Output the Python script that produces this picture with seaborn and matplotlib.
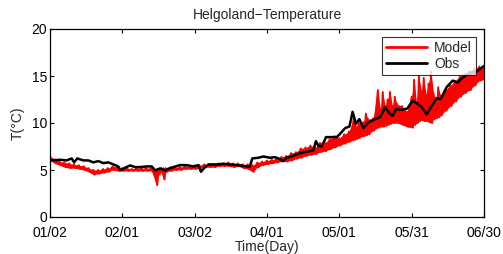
import matplotlib
matplotlib.use("Agg")
import matplotlib.pyplot as plt
import seaborn as sns
import numpy as np
import pandas as pd

# ---- data ----
tick_days = [2, 32, 62, 92, 122, 152, 182]
tick_labels = ["01/02", "02/01", "03/02", "04/01", "05/01", "05/31", "06/30"]

obs_days = [2.0, 6.1, 8.9, 11.0, 12.0, 13.3, 15.8, 17.9, 20.0, 22.0, 24.1, 26.2,
            28.3, 30.3, 31.3, 33.1, 35.2, 37.3, 39.3, 42.1, 44.2, 45.6, 47.6, 49.7,
            51.1, 53.2, 55.9, 58.7, 61.5, 63.5, 64.6, 65.9, 67.7, 71.1, 73.9, 76.7,
            79.4, 83.6, 84.9, 85.9, 88.4, 90.5, 93.2, 95.3, 97.4, 98.8, 100.2, 102.9,
            105.0, 107.1, 109.8, 111.2, 112.3, 113.3, 114.7, 116.5, 118.1, 120.9,
            122.3, 124.4, 126.2, 127.5, 128.9, 130.3, 132.0, 134.0, 136.8, 138.9,
            141.0, 142.7, 144.1, 145.5, 147.9, 150.2, 152.4, 154.4, 156.2, 158.2,
            160.3, 162.4, 164.0, 166.5, 169.0, 171.0, 173.4, 176.2, 178.9, 182.0]
obs_vals = [6.02, 6.09, 6.02, 6.23, 5.81, 6.23, 6.02, 6.02, 5.81, 5.95, 5.73, 5.81,
            5.59, 5.38, 4.96, 5.24, 5.49, 5.31, 5.31, 5.38, 5.38, 4.96, 5.17, 4.96,
            5.13, 5.31, 5.52, 5.52, 5.38, 5.52, 4.81, 5.20, 5.59, 5.59, 5.66, 5.59,
            5.52, 5.38, 5.38, 6.23, 6.30, 6.44, 6.30, 6.37, 6.16, 5.95, 6.30, 6.51,
            6.73, 6.87, 7.01, 7.08, 8.07, 7.58, 7.50, 8.50, 8.50, 8.50, 8.85, 9.45,
            9.63, 11.19, 9.91, 10.41, 9.45, 10.05, 10.41, 10.62, 11.68, 11.04, 10.76,
            11.47, 11.40, 11.54, 12.39, 12.04, 11.68, 10.90, 11.82, 12.64, 12.53,
            13.81, 14.51, 14.30, 14.87, 15.36, 15.47, 16.07]

model_days = [2, 4, 6, 8, 10, 12, 14, 16, 18, 20, 22, 24, 26, 28, 30, 32, 34, 36,
              38, 40, 42, 44, 45, 46, 47, 48, 49, 50, 52, 54, 56, 58, 60, 62, 64,
              66, 68, 70, 72, 74, 76, 78, 80, 82, 84, 86, 88, 90, 92, 94, 96, 98,
              100, 102, 104, 106, 108, 110, 112, 114, 116, 118, 120, 122, 124, 126,
              128, 129, 130, 132, 133, 134, 136, 138, 139, 140, 141, 142, 143, 144,
              145, 146, 148, 150, 152, 153, 154, 155, 156, 157, 158, 159, 160, 161,
              162, 163, 164, 166, 168, 170, 172, 174, 176, 178, 180, 182]
model_lo = [6.0, 5.7, 5.5, 5.3, 5.2, 5.2, 5.1, 5.0, 4.8, 4.5, 4.6, 4.7, 4.8, 5.0,
            4.9, 4.9, 4.9, 4.9, 4.9, 4.9, 4.9, 4.9, 4.3, 3.4, 4.5, 4.8, 4.0, 4.8,
            4.9, 5.0, 5.0, 5.1, 5.1, 5.1, 5.2, 5.3, 5.3, 5.3, 5.4, 5.4, 5.4, 5.3,
            5.4, 5.2, 5.1, 4.8, 5.3, 5.5, 5.6, 5.7, 5.8, 5.9, 5.9, 6.0, 6.2, 6.3,
            6.5, 6.6, 6.7, 6.9, 7.0, 7.2, 7.4, 7.6, 7.8, 8.0, 8.2, 8.3, 8.4, 8.6,
            8.7, 8.8, 9.2, 9.5, 9.6, 9.6, 9.7, 9.8, 9.9, 10.0, 10.0, 10.0, 9.8,
            9.6, 9.5, 9.8, 10.0, 10.2, 10.3, 10.2, 10.2, 10.1, 10.0, 10.4, 10.5,
            10.6, 10.8, 11.3, 11.8, 12.3, 12.8, 13.2, 13.5, 14.0, 14.5, 14.6]
model_hi = [6.5, 6.1, 5.9, 5.8, 5.7, 5.6, 5.5, 5.4, 5.2, 5.0, 5.0, 5.1, 5.2, 5.4,
            5.3, 5.2, 5.2, 5.1, 5.2, 5.2, 5.2, 5.2, 5.0, 5.0, 5.1, 5.2, 5.2, 5.2,
            5.3, 5.3, 5.3, 5.4, 5.4, 5.5, 5.5, 5.6, 5.6, 5.6, 5.7, 5.7, 5.8, 5.7,
            5.7, 5.6, 5.6, 5.5, 5.8, 5.9, 6.0, 6.1, 6.2, 6.4, 6.5, 6.8, 6.9, 7.3,
            7.4, 7.6, 7.4, 7.9, 7.9, 8.3, 8.6, 8.4, 8.8, 9.1, 10.5, 9.6, 10.0, 10.1,
            11.0, 10.4, 10.5, 13.5, 11.5, 13.3, 11.8, 12.5, 13.3, 11.8, 12.8, 12.0,
            11.8, 11.2, 12.8, 14.6, 12.2, 15.0, 13.4, 14.8, 13.0, 14.2, 15.5, 13.2,
            12.6, 13.8, 12.9, 13.5, 14.0, 14.5, 15.0, 15.2, 15.5, 15.8, 16.0, 15.8]

# ---- build model zigzag (interleave envelope values) ----
mx, my = [], []
for d, lo, hi in zip(model_days, model_lo, model_hi):
    mx += [d, d + 0.5]
    my += [hi, lo]
model_df = pd.DataFrame({"day": mx, "T": my})
obs_df = pd.DataFrame({"day": obs_days, "T": obs_vals})

sns.set_style("white")
plt.rcParams["font.family"] = ["Liberation Sans", "DejaVu Sans"]

FS = 10
fig = plt.figure(figsize=(5.03, 2.54), dpi=100)
ax = fig.add_axes([50 / 503, 37 / 254, 434 / 503, 188 / 254])

red = "#ff0000"
ax.fill_between(model_days, model_lo, model_hi, color=red, lw=0)
sns.lineplot(data=model_df, x="day", y="T", ax=ax, color=red, lw=1.4,
             estimator=None, sort=False, label="Model")
sns.lineplot(data=obs_df, x="day", y="T", ax=ax, color="black", lw=1.8,
             estimator=None, sort=False, label="Obs")

ax.set_xlim(2, 182)
ax.set_ylim(0, 20)
ax.set_xticks(tick_days)
ax.set_xticklabels(tick_labels)
ax.set_yticks([0, 5, 10, 15, 20])
ax.tick_params(axis="both", direction="in", length=3, width=0.8, labelsize=FS,
               top=True, right=True, bottom=True, left=True, colors="black")
ax.tick_params(axis="x", pad=6.2)
ax.tick_params(axis="y", pad=2)
for s in ax.spines.values():
    s.set_linewidth(0.9)
    s.set_color("black")
ax.set_xlabel("Time(Day)", fontsize=FS, labelpad=0.5)
ax.set_ylabel("T(\u00b0C)", fontsize=FS, labelpad=5)
ax.set_title("Helgoland\u2212Temperature", fontsize=FS, pad=7)

leg = ax.legend(loc="upper right", fontsize=FS, frameon=True, fancybox=False,
                edgecolor="black", handlelength=3.0, handletextpad=0.5,
                borderpad=0.3, labelspacing=0.15, borderaxespad=0.55)
leg.get_frame().set_linewidth(0.8)
for line in leg.get_lines():
    line.set_linewidth(2.0)

fig.savefig("out.png", dpi=100)
